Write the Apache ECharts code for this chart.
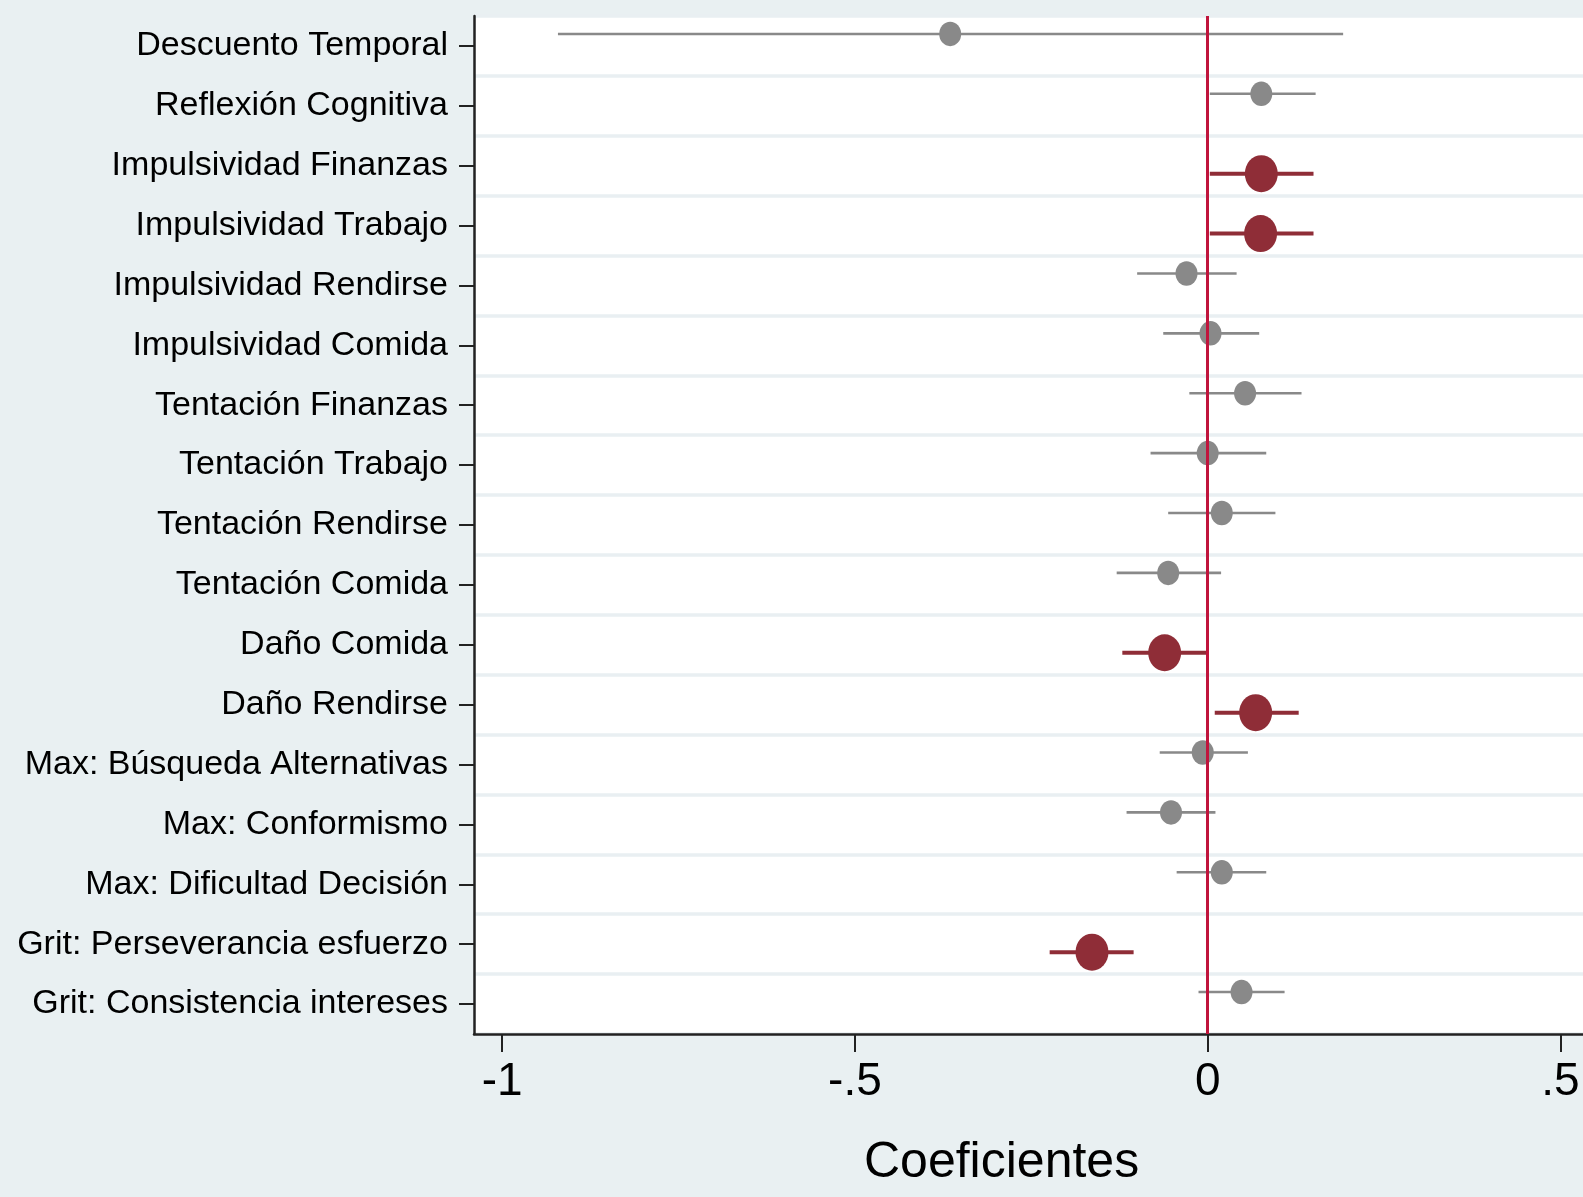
<!DOCTYPE html>
<html>
<head>
<meta charset="utf-8">
<script src="https://cdn.jsdelivr.net/npm/echarts@6/dist/echarts.min.js"></script>
<style>
html,body{margin:0;padding:0;background:#e9f0f2;}
#chart{width:1583px;height:1197px;}
</style>
</head>
<body>
<div id="chart"></div>
<script>
const categories = [
  'Descuento Temporal', 'Reflexión Cognitiva', 'Impulsividad Finanzas', 'Impulsividad Trabajo',
  'Impulsividad Rendirse', 'Impulsividad Comida', 'Tentación Finanzas', 'Tentación Trabajo',
  'Tentación Rendirse', 'Tentación Comida', 'Daño Comida', 'Daño Rendirse',
  'Max: Búsqueda Alternativas', 'Max: Conformismo', 'Max: Dificultad Decisión',
  'Grit: Perseverancia esfuerzo', 'Grit: Consistencia intereses'
];
const coef   = [-0.365, 0.076, 0.076, 0.075, -0.030, 0.004, 0.053, 0.000, 0.020, -0.056, -0.061, 0.068, -0.007, -0.052, 0.020, -0.164, 0.048];
const ciLow  = [-0.921, 0.003, 0.003, 0.003, -0.100, -0.063, -0.026, -0.081, -0.056, -0.129, -0.121, 0.010, -0.068, -0.115, -0.044, -0.224, -0.013];
const ciHigh = [ 0.192, 0.153, 0.150, 0.150, 0.041, 0.073, 0.133, 0.083, 0.096, 0.019, -0.002, 0.129, 0.057, 0.011, 0.083, -0.105, 0.109];
const significant = [0, 0, 1, 1, 0, 0, 0, 0, 0, 0, 1, 1, 0, 0, 0, 1, 0];
const xTickValues = [-1, -0.5, 0, 0.5];
const xTickLabels = ['-1', '-.5', '0', '.5'];
const xTitle = 'Coeficientes';

const grayData = [], redData = [];
categories.forEach((c, i) => {
  const row = [coef[i], i, ciLow[i], ciHigh[i]];
  (significant[i] ? redData : grayData).push(row);
});

function makeRender(color, lineW, w, h, off) {
  return function (params, api) {
    const p = api.coord([api.value(0), api.value(1)]);
    const lo = api.coord([api.value(2), api.value(1)]);
    const hi = api.coord([api.value(3), api.value(1)]);
    const y = p[1] + off;
    return {
      type: 'group',
      children: [
        { type: 'line', shape: { x1: lo[0], y1: y, x2: hi[0], y2: y },
          style: { stroke: color, lineWidth: lineW } },
        { type: 'circle', x: p[0], y: y, scaleY: h / w,
          shape: { cx: 0, cy: 0, r: w / 2 }, style: { fill: color } }
      ]
    };
  };
}

const chart = echarts.init(document.getElementById('chart'), null, { renderer: 'canvas' });
const FONT = '"Liberation Sans", Arial, Helvetica, sans-serif';
chart.setOption({
  backgroundColor: '#e9f0f2',
  animation: false,
  grid: { left: 474, right: 0, top: 16, bottom: 163, show: true, backgroundColor: '#ffffff', borderWidth: 0 },
  xAxis: {
    type: 'value', min: -1.04, max: 0.532,
    axisLine: { show: true, onZero: false, lineStyle: { color: '#222', width: 2.5 } },
    axisTick: { show: true, length: 18, lineStyle: { color: '#222', width: 2 }, customValues: xTickValues },
    axisLabel: {
      customValues: xTickValues, fontSize: 46, color: '#000', fontFamily: FONT, margin: 25,
      formatter: v => { const k = xTickValues.findIndex(t => Math.abs(t - v) < 1e-9); return k >= 0 ? xTickLabels[k] : ''; }
    },
    splitLine: { show: false }
  },
  yAxis: {
    type: 'category', data: categories, inverse: true, boundaryGap: true,
    axisLine: { show: true, onZero: false, lineStyle: { color: '#222', width: 2.5 } },
    axisTick: { show: true, alignWithLabel: true, length: 15, lineStyle: { color: '#222', width: 2 } },
    axisLabel: { fontSize: 34, color: '#000', fontFamily: FONT, margin: 26 },
    splitLine: { show: true, lineStyle: { color: '#e9eff2', width: 3.5 } }
  },
  graphic: [{
    type: 'text', left: 1006 - 142, top: 1138,
    style: { text: xTitle, fontSize: 50, fill: '#000', font: '50px ' + FONT }
  }],
  series: [
    {
      type: 'custom', name: 'n.s.', data: grayData, z: 3,
      encode: { x: [0, 2, 3], y: 1 },
      renderItem: makeRender('#898989', 2.6, 22, 24.5, -12),
      markLine: {
        silent: true, symbol: 'none', z: 10,
        label: { show: false },
        lineStyle: { color: '#c0143c', width: 3, type: 'solid' },
        data: [{ xAxis: 0 }]
      }
    },
    {
      type: 'custom', name: 'sig', data: redData, z: 3,
      encode: { x: [0, 2, 3], y: 1 },
      renderItem: makeRender('#8f2d37', 4, 33, 37, 8)
    }
  ]
});
</script>
</body>
</html>
